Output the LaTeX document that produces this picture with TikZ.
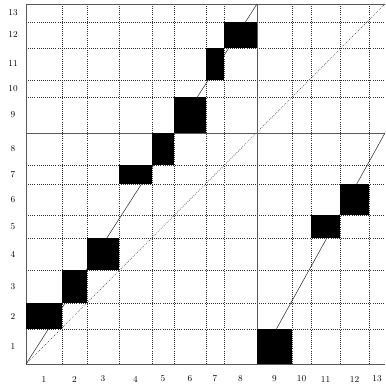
\documentclass[tikz,border=0pt]{standalone}
\begin{document}
\begin{tikzpicture}[x=1pt,y=-1pt,
  gridline/.style={black!80, line width=0.5pt, dash pattern=on 0.8pt off 1.3pt},
  frameline/.style={black!65, line width=0.8pt},
  pathline/.style={black!85, line width=0.5pt},
  blk/.style={fill=black},
  lab/.style={font=\small, inner sep=0pt}]
\useasboundingbox (0,0) rectangle (385,387);
% grid corners
\coordinate (BL) at (26,364);
\coordinate (TL) at (26,4);
\coordinate (TR) at (385,4);
\coordinate (BR) at (385,364);
\coordinate (ML) at (26,133);
\coordinate (MR) at (385,133);
\coordinate (MT) at (257,4);
\coordinate (MB) at (257,364);
% dotted grid
\foreach \x in {62,87,119,152,174,206,224,292,311,340,369}
  \draw[gridline] (\x,4) -- (\x,364);
\foreach \y in {22,48,80,97,165,184,215,238,270,303,329}
  \draw[gridline] (26,\y) -- (385,\y);
\draw[gridline] (BL) -- (TR);
% solid lines
\draw[frameline] (TR) -- (TL) -- (BL) -- (BR);
\draw[frameline] (ML) -- (MR);
\draw[frameline] (MT) -- (MB);
\draw[pathline] (BL) -- (MT);
\draw[pathline] (MB) -- (MR);
% black boxes
\fill[blk] (26,303) rectangle (62,329);
\fill[blk] (62,270) rectangle (87,303);
\fill[blk] (87,238) rectangle (119,270);
\fill[blk] (119,165) rectangle (152,184);
\fill[blk] (152,133) rectangle (174,165);
\fill[blk] (174,97) rectangle (206,133);
\fill[blk] (206,48) rectangle (224,80);
\fill[blk] (224,22) rectangle (257,48);
\fill[blk] (257,329) rectangle (292,364);
\fill[blk] (311,215) rectangle (340,238);
\fill[blk] (340,184) rectangle (369,215);
% column labels
\foreach \n/\x in {1/44,2/74.5,3/103,4/135.5,5/163,6/190,7/215,8/240.5,9/274.5,10/301.5,11/325.5,12/354.5,13/377}
  \node[lab] (c\n) at (\x,379) {\n};
% row labels
\foreach \n/\y in {1/346.5,2/316,3/286.5,4/254,5/226.5,6/199.5,7/174.5,8/149,9/115,10/88.5,11/64,12/35,13/13}
  \node[lab] (r\n) at (13,\y) {\n};
\end{tikzpicture}
\end{document}
